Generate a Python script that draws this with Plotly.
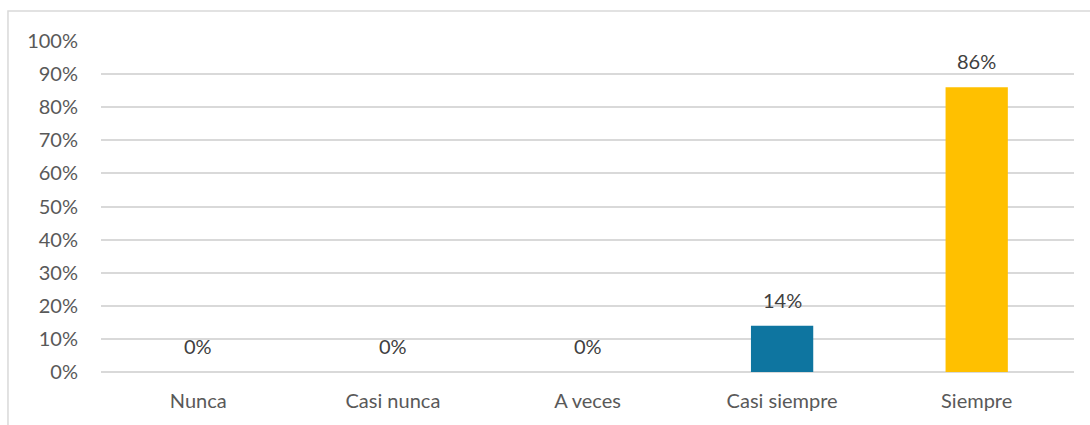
import plotly.graph_objects as go

categories = ["Nunca", "Casi nunca", "A veces", "Casi siempre", "Siempre"]
values = [0, 0, 0, 14, 86]
bar_colors = ["#0E75A0", "#0E75A0", "#0E75A0", "#0E75A0", "#FFC000"]
y_ticks = list(range(0, 101, 10))
y_tick_labels = [f"{t}%" for t in y_ticks]

FONT = "Lato, 'Open Sans', sans-serif"
TEXT_COLOR = "#595959"
LABEL_COLOR = "#404040"
GRID = "#D9D9D9"
FS = 20

fig = go.Figure(
    go.Bar(
        x=categories,
        y=values,
        marker=dict(color=bar_colors, line=dict(width=0)),
        width=0.32,
        hoverinfo="skip",
    )
)

# value labels above each bar
for cat, val in zip(categories, values):
    fig.add_annotation(
        x=cat, y=val, text=f"{val}%", showarrow=False,
        yanchor="bottom", yshift=12,
        font=dict(family=FONT, size=FS, color=LABEL_COLOR),
    )

# chart frame
fig.add_shape(
    type="rect", xref="paper", yref="paper",
    x0=-0.0956, x1=1.03, y0=-0.2, y1=1.0906,
    line=dict(color=GRID, width=1.5), fillcolor="rgba(0,0,0,0)", layer="below",
)

fig.update_layout(
    width=1090, height=425,
    margin=dict(l=101, r=16, t=41, b=53),
    paper_bgcolor="white", plot_bgcolor="white",
    showlegend=False,
    font=dict(family=FONT, size=FS, color=TEXT_COLOR),
    xaxis=dict(
        showgrid=False, showline=False, zeroline=False,
        ticks="", ticklabelstandoff=15,
        tickfont=dict(family=FONT, size=FS, color=TEXT_COLOR),
    ),
    yaxis=dict(
        range=[0, 100], tickvals=y_ticks, ticktext=y_tick_labels,
        showgrid=True, gridcolor=GRID, gridwidth=1.5,
        zeroline=True, zerolinecolor=GRID, zerolinewidth=1.5,
        showline=False, ticks="", ticklabelstandoff=22,
        tickfont=dict(family=FONT, size=FS, color=TEXT_COLOR),
    ),
)

fig.write_html("out.html")
